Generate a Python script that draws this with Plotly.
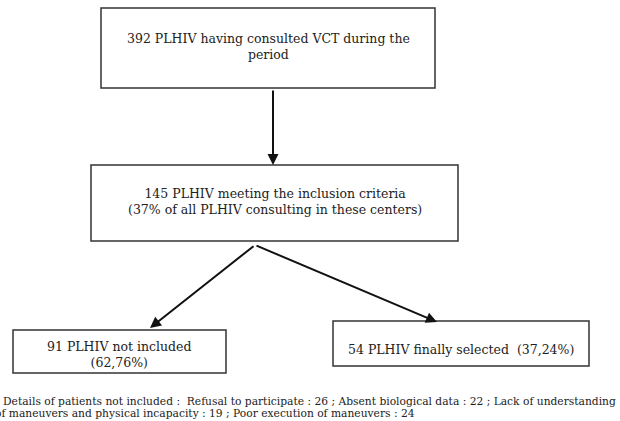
import plotly.graph_objects as go

# ---- data (flowchart content) ----
stage_counts = [392, 145, 91, 54]
stage_labels = [
    "392 PLHIV having consulted VCT during the<br>period",
    "145 PLHIV meeting the inclusion criteria<br>(37% of all PLHIV consulting in these centers)",
    "91 PLHIV not included<br>(62,76%)",
    "54 PLHIV finally selected  (37,24%)",
]
exclusion_reasons = ["Refusal to participate", "Absent biological data",
                     "Lack of understanding of maneuvers and physical incapacity",
                     "Poor execution of maneuvers"]
exclusion_counts = [26, 22, 19, 24]

# ---- layout geometry (pixel-like coordinates) ----
W, H = 620, 421
boxes = [  # x0, y0, x1, y1
    (101, 8, 435, 88),
    (91, 165, 458, 241),
    (13, 330, 226, 373),
    (333, 321, 589, 366),
]
text_pos = [(268, 46), (275, 201), (119, 354), (461, 349)]
arrows = [  # (tail x, tail y, head x, head y)
    (273, 89, 273, 165),
    (255, 245, 150, 328),
    (255, 245, 437, 322),
]

fig = go.Figure()
fig.add_trace(go.Scatter(x=[0, W], y=[0, H], mode="markers",
                         marker=dict(opacity=0), hoverinfo="skip", showlegend=False))

font = dict(family="DejaVu Serif, serif", size=12.5, color="#222")

for (x0, y0, x1, y1) in boxes:
    fig.add_shape(type="rect", x0=x0, y0=y0, x1=x1, y1=y1, xref="x", yref="y",
                  line=dict(color="#333", width=1.5), fillcolor="rgba(0,0,0,0)")

for (tx, ty), lab in zip(text_pos, stage_labels):
    fig.add_annotation(x=tx, y=ty, xref="x", yref="y", text=lab, showarrow=False,
                       font=font, align="center", xanchor="center", yanchor="middle")

for (x0, y0, x1, y1) in arrows:
    fig.add_annotation(x=x1, y=y1, ax=x0, ay=y0, xref="x", yref="y", axref="x", ayref="y",
                       text="", showarrow=True, arrowhead=2, arrowsize=1.1,
                       arrowwidth=2, arrowcolor="#111", standoff=0)

parts = [f"{r} : {c}" for r, c in zip(exclusion_reasons, exclusion_counts)]
line1 = "Details of patients not included :  " + " ; ".join(parts[:2]) + " ; Lack of understanding"
line2 = "of maneuvers and physical incapacity : " + str(exclusion_counts[2]) + " ; " + parts[3]
foot_font = dict(family="DejaVu Serif, serif", size=10.7, color="#222")
fig.add_annotation(x=1, y=401, xref="x", yref="y", text=line1, showarrow=False,
                   font=foot_font, xanchor="left", yanchor="middle")
fig.add_annotation(x=0, y=413, xref="x", yref="y", xshift=-7, text=line2, showarrow=False,
                   font=foot_font, xanchor="left", yanchor="middle")

fig.update_xaxes(range=[0, W], visible=False, fixedrange=True)
fig.update_yaxes(range=[H, 0], visible=False, fixedrange=True)
fig.update_layout(width=W, height=H, margin=dict(l=0, r=0, t=0, b=0),
                  plot_bgcolor="white", paper_bgcolor="white")

fig.write_html("out.html", config={"displayModeBar": False},
               post_script="document.body.style.margin='0';document.body.style.overflow='hidden';")
